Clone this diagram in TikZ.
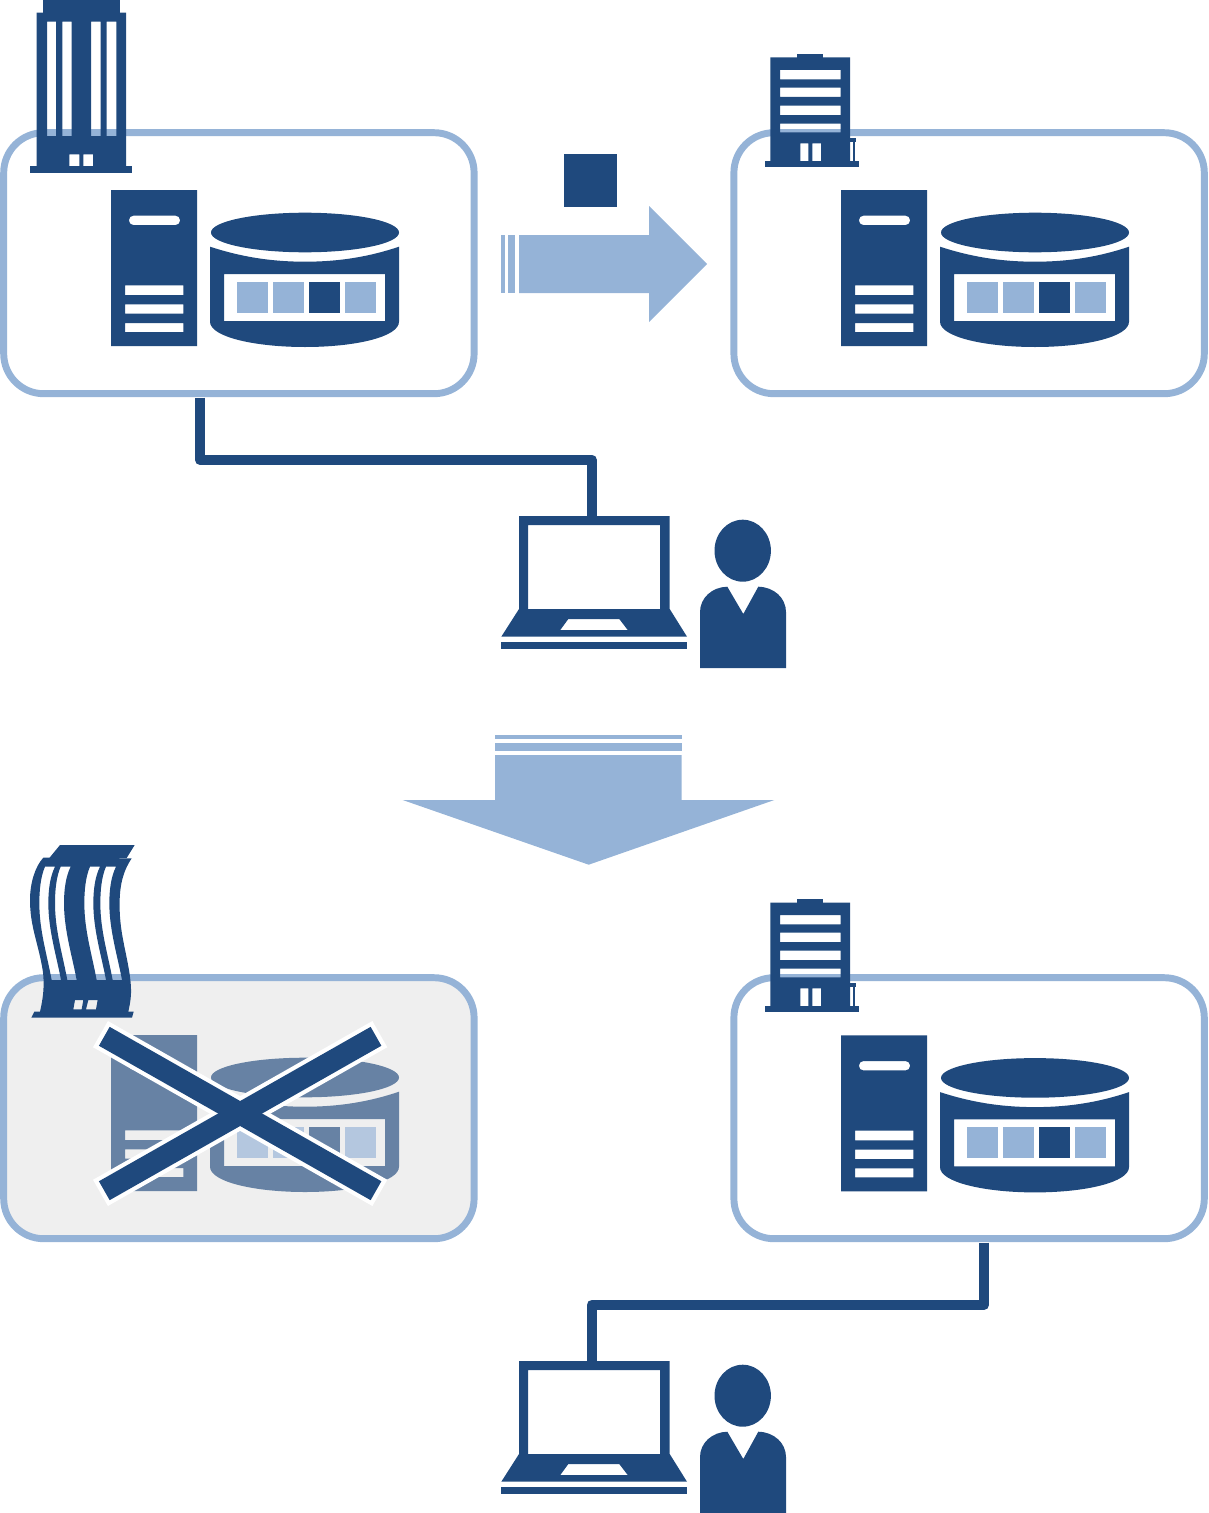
\documentclass[tikz,border=0pt]{standalone}
\usetikzlibrary{calc}
\definecolor{ink}{HTML}{1F497D}
\definecolor{sky}{HTML}{95B3D7}
\definecolor{paper}{HTML}{EFEFEF}
\tikzset{
  panel/.style={draw=sky,line width=5.2pt,rounded corners=30pt,minimum width=352.8pt,minimum height=195.75pt,inner sep=0pt,outer sep=0pt},
  solid ink/.style={fill=ink,draw=none},
  cutout/.style={fill=ink,draw=none,even odd rule},
  wire/.style={draw=ink,line width=7.7pt,line join=round},
  flow/.style={fill=sky,draw=none},
  % server tower beside a disk cylinder holding four data blocks
  storage/.pic={
    \path[cutout] (111,190) rectangle (197,346)
      [rounded corners=3.2pt] (129,215.7) rectangle (180,225) [sharp corners]
      (125,285.3) rectangle (183.3,295)
      (125,304.3) rectangle (183.3,313.7)
      (125,323) rectangle (183.3,332);
    \path[solid ink] (305,232.5) ellipse [x radius=94,y radius=19.8];
    \path[cutout] (210,246.7) .. controls (240,256.5) and (270,261.7) .. (305,261.7)
        .. controls (340,261.7) and (370,256.5) .. (399,246.7)
      -- (399,321.7) .. controls (399,337) and (355,347) .. (305,347)
        .. controls (255,347) and (210,337) .. (210,321.7) -- cycle
      (224,274) rectangle (385,321);
    \path[fill=sky] (237,282) rectangle (268,313);
    \path[fill=sky] (273,282) rectangle (304,313);
    \path[fill=ink] (309,282) rectangle (340,313);
    \path[fill=sky] (345,282) rectangle (376,313);
  },
  % office block with horizontal window bands and a small porch
  office/.pic={
    \path[solid ink] (797.3,54) rectangle (823,58);
    \path[cutout] (770.3,57.5) rectangle (850,161)
      (780,70) rectangle (840.7,79.3)
      (780,87.7) rectangle (840.7,97)
      (780,105.7) rectangle (840.7,115)
      (780,123.7) rectangle (840.7,132.3)
      (800.3,143.3) rectangle (808.3,161)
      (812.3,143.3) rectangle (821,161);
    \path[solid ink] (765,160.5) rectangle (859,167);
    \path[solid ink] (850,138.3) rectangle (856.3,142.3);
    \path[solid ink] (852.5,142) rectangle (854.5,161);
  },
  % laptop with its user standing next to it
  workstation/.pic={
    \path[cutout] (519,516) -- (669.7,516) -- (669.7,609) -- (687,636.7) -- (501.3,636.7) -- (519,609) -- cycle
      (528,525) rectangle (660,609)
      (568.3,619) -- (619.3,619) -- (627.7,630) -- (560.3,630) -- cycle;
    \path[solid ink] (501,642) rectangle (687,649);
    \path[solid ink] (742.7,550.7) ellipse [x radius=28.2,y radius=31];
    \path[solid ink] (700,612) .. controls (700,598) and (712,587) .. (727.3,586.7)
      -- (743.3,614) -- (758.3,586.7) .. controls (774,587) and (786,598) .. (786,612)
      -- (786,668) -- (700,668) -- cycle;
  }
}
\begin{document}
\begin{tikzpicture}[x=0.75pt,y=-0.75pt]
\useasboundingbox (0,0) rectangle (1208,1513);

% site panels
\node[panel,fill=white] (siteA) at (238.9,263.2) {};
\node[panel,fill=white] (siteB) at (969.1,263.2) {};
\node[panel,fill=paper] (siteC) at (238.9,1108.2) {};
\node[panel,fill=white] (siteD) at (969.1,1108.2) {};

% storage in each site
\pic at (0,0) {storage};
\pic at (730,0) {storage};
\pic[fill opacity=.65] at (0,845) {storage};
\pic at (730,845.4) {storage};

% tall headquarters tower
\path[solid ink] (43.3,0) rectangle (120,13);
\path[cutout] (36.7,12.7) rectangle (126,166.5)
  (47,21.7) rectangle (56,136)
  (62.3,21.7) rectangle (71.7,136)
  (91,21.7) rectangle (100.7,136)
  (106.7,21.7) rectangle (116.3,136)
  (69.3,154.3) rectangle (79.3,166.5)
  (83.3,154.3) rectangle (93,166.5);
\path[solid ink] (30,166) rectangle (132,173);

% office blocks at the other sites
\pic at (0,0) {office};
\pic at (0,845) {office};

% headquarters tower, bent out of shape by the disaster
\begin{scope}[shift={(0,830)},x=0.25pt,y=-0.25pt]
  \path[solid ink] (148,84) -- (180,45) -- (404,45) -- (380,84) -- cycle;
  \path[cutout] (130,83) -- (395,85) .. controls (365,130) and (355,180) .. (360,260)
      .. controls (365,340) and (395,420) .. (393,490)
      .. controls (392,515) and (388,530) .. (385,545) -- (401,545) -- (396,563)
      -- (94,563) -- (103,545) -- (120,545)
      .. controls (128,510) and (135,470) .. (128,420)
      .. controls (115,340) and (90,290) .. (90,210)
      .. controls (90,160) and (105,110) .. (130,83) -- cycle
    foreach \d in {0,47,135,183}{
      (135+\d,110) -- (165+\d,110) .. controls (150+\d,140) and (145+\d,180) .. (145+\d,220)
        .. controls (145+\d,300) and (170+\d,380) .. (183+\d,450) -- (155+\d,450)
        .. controls (140+\d,370) and (118+\d,300) .. (118+\d,220)
        .. controls (118+\d,180) and (122+\d,140) .. (135+\d,110) -- cycle
    }
    (225,510) -- (250,510) -- (245,538) -- (220,538) -- cycle
    (265,510) -- (293,510) -- (288,538) -- (258,538) -- cycle;
\end{scope}

% cross over the failed site
\coordinate (xNW) at (104.3,1036.3);
\coordinate (xSE) at (376,1190.7);
\coordinate (xNE) at (376,1036.3);
\coordinate (xSW) at (104.3,1190.7);
\draw[white,line width=22.6pt,shorten >=-3.3pt,shorten <=-3.3pt] (xNW) -- (xSE);
\draw[white,line width=22.6pt,shorten >=-3.3pt,shorten <=-3.3pt] (xNE) -- (xSW);
\draw[ink,line width=16.3pt] (xNW) -- (xSE);
\draw[ink,line width=16.3pt] (xNE) -- (xSW);

% workstations
\pic at (0,0) {workstation};
\pic at (0,845) {workstation};

% links from site to workstation
\coordinate (tapA) at (200,397.7);
\coordinate (lapA) at (591.7,517);
\coordinate (tapD) at (984,1242.7);
\coordinate (lapD) at (591.7,1362);
\draw[wire] (tapA) -- (tapA |- 0,459.8) -| (lapA);
\draw[wire] (tapD) -- (tapD |- 0,1304.8) -| (lapD);

% replication arrow with its data block
\path[solid ink] (564,154) rectangle (617,207);
\path[flow] (501,235) rectangle (504.7,293);
\path[flow] (508,235) rectangle (515.4,293);
\path[flow] (519,235) -- (649,235) -- (649,206) -- (707,264) -- (649,322) -- (649,293) -- (519,293) -- cycle;

% failover arrow
\path[flow] (495,735) rectangle (681.7,739);
\path[flow] (495,743) rectangle (681.7,751);
\path[flow] (495,755) -- (681.7,755) -- (681.7,800) -- (774.3,800) -- (588.7,864.7) -- (402.7,800) -- (495,800) -- cycle;
\end{tikzpicture}
\end{document}
